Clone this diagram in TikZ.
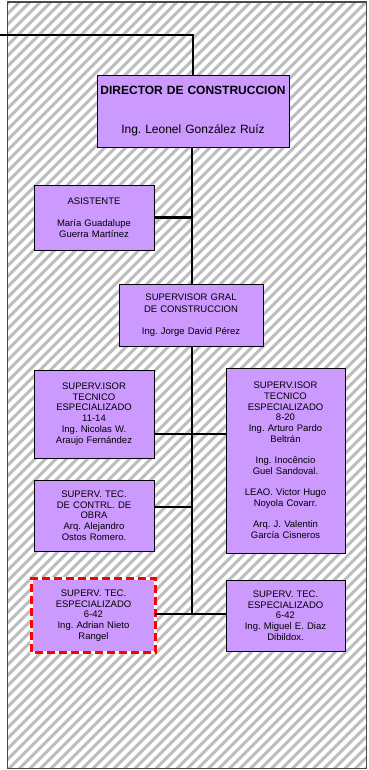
\documentclass[tikz,border=0pt]{standalone}
\usepackage{fontspec}
\setmainfont{Liberation Sans}
\frenchspacing
\definecolor{boxfill}{HTML}{CC99FF}
\definecolor{hatchgray}{HTML}{BDBDBD}
\definecolor{framegray}{HTML}{4A4A4A}
\begin{document}
\begin{tikzpicture}[x=1pt,y=-1pt,
  box/.style={draw=black, line width=0.9pt, fill=boxfill, align=center,
    inner xsep=2pt, inner ysep=0pt, font=\fontsize{9.5}{10.7}\selectfont},
  link/.style={line width=2.1pt, black}]
\useasboundingbox (0,0) rectangle (368,770);
\fill[white] (0,0) rectangle (368,770);
\begin{scope}
  \clip (7.5,2) rectangle (366.5,768.5);
  \foreach \k in {-780,-769.5,...,380} \draw[hatchgray, line width=3pt] (\k,770) -- ++(770,-770);
\end{scope}
\draw[framegray, line width=1.5pt] (7.5,2) rectangle (366.5,768.5);

\node[box, text width=188pt, minimum height=72pt, font=\fontsize{12}{14}\selectfont] (dir) at (193,111)
  {\textbf{DIRECTOR DE CONSTRUCCION}\\[25pt]Ing. Leonel González Ruíz};
\node[box, text width=116pt, minimum height=65pt] (asis) at (94,217.5)
  {ASISTENTE\\[12pt]María Guadalupe\\Guerra Martínez};
\node[box, text width=140pt, minimum height=62pt] (sg) at (191,315)
  {SUPERVISOR GRAL\\[1.3pt]DE CONSTRUCCION\\[11pt]Ing. Jorge David Pérez};
\node[box, text width=116pt, minimum height=88pt] (b1114) at (94,414)
  {SUPERV.ISOR\\TECNICO\\ESPECIALIZADO\\11-14\\Ing. Nicolas W.\\Araujo Fernández};
\node[box, text width=115pt, minimum height=185pt] (r820) at (285.5,460.5)
  {SUPERV.ISOR\\TECNICO\\ESPECIALIZADO\\8-20\\Ing. Arturo Pardo\\Beltrán\\[10.7pt]Ing. Inocêncio\\Guel Sandoval.\\[10.7pt]LEAO. Victor Hugo\\Noyola Covarr.\\[10.7pt]Arq. J. Valentin\\García Cisneros};
\node[box, text width=116pt, minimum height=71pt] (contrl) at (94,515.5)
  {SUPERV. TEC.\\DE CONTRL. DE\\OBRA\\Arq. Alejandro\\Ostos Romero.};
\node[box, draw=none, text width=119pt, minimum height=73pt] (dl) at (93.5,615.5)
  {SUPERV. TEC.\\ESPECIALIZADO\\6-42\\Ing. Adrian Nieto\\Rangel};
\draw[white, line width=2.4pt] (dl.south west) rectangle (dl.north east);
\draw[red, line width=2.4pt, dash pattern=on 8pt off 4pt] (dl.south west) rectangle (dl.north east);
\node[box, text width=115pt, minimum height=71pt] (br) at (285.5,615.5)
  {SUPERV. TEC.\\ESPECIALIZADO\\6-42\\Ing. Miguel E. Diaz\\Dibildox.};

\coordinate (start) at (0,35);
\coordinate (j1) at (192,434);
\coordinate (j2) at (192,507);
\coordinate (j3) at (192,614);

\draw[link] (start) -| (dir.north);
\draw[link] (dir.south -| j1) -- (sg.north -| j1);
\draw[link] (asis.east) -- (asis.east -| j1);
\draw[link] (sg.south -| j1) -- (j3);
\draw[link] (j1 -| b1114.east) -- (j1 -| r820.west);
\draw[link] (j2 -| contrl.east) -- (j2);
\draw[link] (j3 -| dl.east) -- (j3 -| br.west);
\end{tikzpicture}
\end{document}
